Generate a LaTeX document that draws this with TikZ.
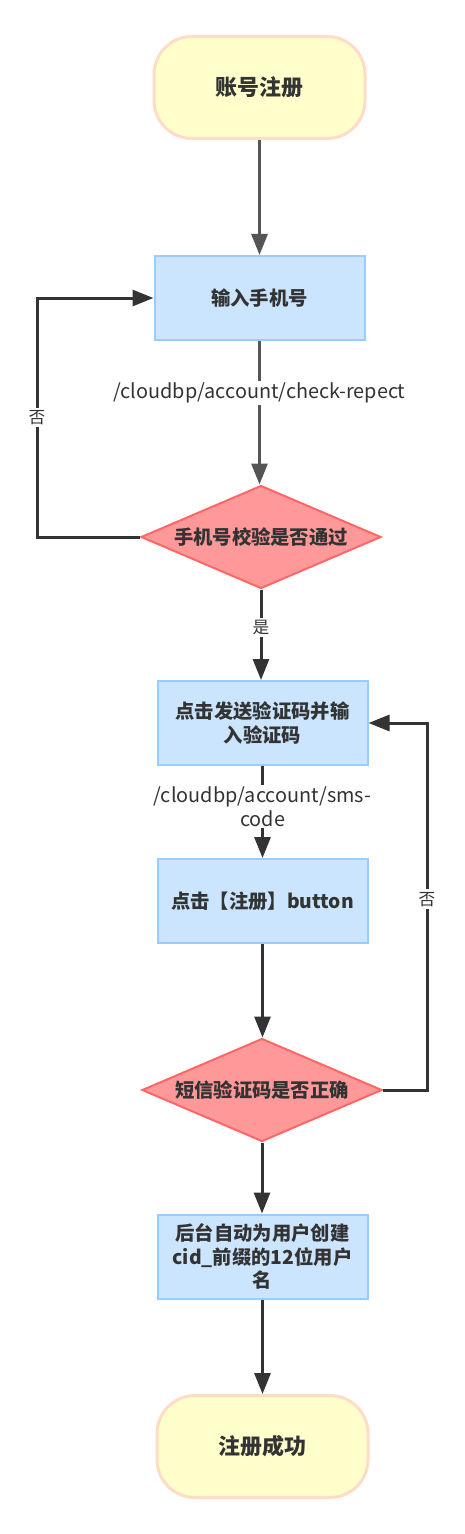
\documentclass[tikz,border=0pt]{standalone}
\usepackage{fontspec}
\setmainfont{Noto Sans CJK SC}
\usetikzlibrary{arrows.meta,shapes.geometric}

\definecolor{termfill}{HTML}{FFFFCC}
\definecolor{termline}{HTML}{FFDCC6}
\definecolor{boxfill}{HTML}{CCE5FF}
\definecolor{boxline}{HTML}{99CCFF}
\definecolor{decfill}{HTML}{FF9999}
\definecolor{decline}{HTML}{FF6666}
\definecolor{txt}{HTML}{333333}
\definecolor{linkgray}{HTML}{555555}
\definecolor{linkdark}{HTML}{333333}

\def\px{0.02cm}

\begin{document}
\begin{tikzpicture}[x=\px, y=-\px,
    terminal/.style={draw=termline, fill=termfill, line width=3*\px, rounded corners=38*\px,
      minimum width=211*\px, minimum height=102*\px, text=txt,
      font=\fontsize{12.5pt}{15pt}\selectfont\bfseries},
    stepbox/.style={draw=boxline, fill=boxfill, line width=2*\px, minimum width=210*\px,
      minimum height=84*\px, align=center, text=txt,
      font=\fontsize{11pt}{13.6pt}\selectfont\bfseries},
    decision/.style={diamond, draw=decline, fill=decfill, line width=2*\px, aspect=2.33,
      inner sep=0pt, minimum width=240*\px, minimum height=103*\px, text=txt,
      font=\fontsize{11pt}{13.6pt}\selectfont\bfseries},
    flow/.style={draw=linkdark, line width=3*\px, -{Triangle[length=21*\px, width=16*\px]}},
    lbl/.style={fill=white, text=txt, inner sep=1pt, align=center,
      font=\fontsize{11.3pt}{13.6pt}\selectfont},
    yn/.style={fill=white, text=txt, inner sep=1.5pt, font=\fontsize{9.5pt}{11pt}\selectfont}]

  \fill[white] (0,0) rectangle (464,1534);
  \useasboundingbox (0,0) rectangle (464,1534);

  % nodes
  \node[terminal] (start) at (259.5, 87.5) {账号注册};
  \node[stepbox] (phone) at (259.5, 298) {输入手机号};
  \node[decision] (chk) at (261, 537) {手机号校验是否通过};
  \node[stepbox] (send) at (262.5, 723) {点击发送验证码并输\\入验证码};
  \node[stepbox] (reg) at (262.5, 901) {点击【注册】button};
  \node[decision] (sms) at (262, 1090) {短信验证码是否正确};
  \node[stepbox] (auto) at (262.5, 1256.5) {后台自动为用户创建\\cid\_前缀的12位用户\\名};
  \node[terminal] (done) at (262.5, 1446.5) {注册成功};

  \coordinate (backL) at (37, 537);
  \coordinate (backR) at (427, 1090);

  % connectors
  \draw[flow, draw=linkgray] (start) -- (phone);
  \draw[flow, draw=linkgray] (phone) -- (phone |- chk.north)
    node[lbl, pos=0.36] {/cloudbp/account/check-repect};
  \draw[flow] (chk.west) -- (backL) |- (phone.west) node[yn, pos=0.25] {否};
  \draw[flow] (chk) -- (chk |- send.north) node[yn, pos=0.42] {是};
  \draw[flow] (send) -- (reg) node[lbl, pos=0.44] {/cloudbp/account/sms-\\code};
  \draw[flow] (reg) -- (reg |- sms.north);
  \draw[flow] (sms.east) -- (backR) |- (send.east) node[yn, pos=0.26] {否};
  \draw[flow] (sms) -- (sms |- auto.north);
  \draw[flow] (auto) -- (done);
\end{tikzpicture}
\end{document}
